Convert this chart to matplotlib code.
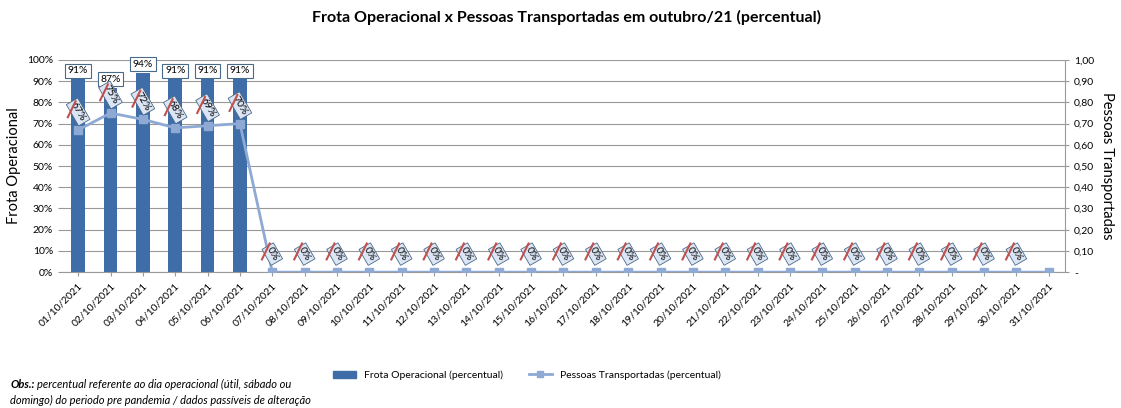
import numpy as np
import matplotlib.pyplot as plt
from matplotlib.patches import Patch
from matplotlib.lines import Line2D

plt.rcParams['font.family'] = ['Lato', 'DejaVu Sans']

dias = ["%02d/10/2021" % d for d in range(1, 32)]
frota = [91, 87, 94, 91, 91, 91] + [0] * 25
pessoas = [0.67, 0.75, 0.72, 0.68, 0.69, 0.70] + [0.0] * 25

fig = plt.figure(figsize=(11.21, 4.08), dpi=100)
ax = fig.add_axes([0.0553, 0.333, 0.8947, 0.52])
ax2 = ax.twinx()

x = np.arange(len(dias))
bar_color = '#3E6DA8'
line_color = '#8EA9D4'
grid_color = '#999999'

ax.set_axisbelow(True)
ax.grid(True, axis='y', color=grid_color, linewidth=0.8)
ax.bar(x, frota, width=0.42, color=bar_color, zorder=2)
ax.set_ylim(0, 100)
ax.set_xlim(-0.5, len(dias) - 0.5)
ax.set_yticks(np.arange(0, 101, 10))
ax.set_yticklabels(["%d%%" % v for v in range(0, 101, 10)], fontsize=7.5)
ax.set_xticks(x)
ax.set_xticklabels(dias, rotation=45, ha='right', rotation_mode='anchor', fontsize=7.5)
ax.set_ylabel("Frota Operacional", fontsize=10.5)
for s in ['top', 'right', 'left']:
    ax.spines[s].set_visible(False)
ax.spines['bottom'].set_color(grid_color)
ax.tick_params(axis='both', length=3, color=grid_color)

# rotulos das barras
for xi, v in zip(x, frota):
    if v > 0:
        ax.text(xi, v + 1.8, "%d%%" % v, ha='center', va='bottom', fontsize=7.5,
                bbox=dict(boxstyle='square,pad=0.25', fc='white', ec='#4a6a8a', lw=0.8), zorder=5)

ax2.plot(x, pessoas, color=line_color, lw=2, marker='s', markersize=6, zorder=3)
ax2.set_ylim(0, 1)
ax2.set_yticks(np.arange(0, 1.01, 0.1))
ax2.set_yticklabels(['-'] + [("%.2f" % v).replace('.', ',') for v in np.arange(0.1, 1.01, 0.1)], fontsize=7.5)
ax2.set_ylabel("Pessoas Transportadas", fontsize=10.5, rotation=-90, labelpad=14)
for s in ['top', 'left', 'bottom']:
    ax2.spines[s].set_visible(False)
ax2.spines['right'].set_color(grid_color)
ax2.tick_params(axis='y', length=3, color=grid_color)

# rotulos da linha (sem o ultimo dia)
for xi, v in zip(x[:-1], pessoas[:-1]):
    ax2.text(xi, v + 0.085, "%d%%" % round(v * 100), ha='center', va='center', fontsize=7.5,
             rotation=-60,
             bbox=dict(boxstyle='square,pad=0.2', fc='#dbe5f3', ec='#4a6a8a', lw=0.6), zorder=6)
    ax2.plot([xi - 0.32, xi - 0.08], [v + 0.06, v + 0.135], color='#c0504d', lw=1.5, zorder=7)

fig.text(0.505, 0.945, "Frota Operacional x Pessoas Transportadas em outubro/21 (percentual)",
         ha='center', fontsize=11.5, fontweight='bold')

handles = [Patch(color=bar_color, label="Frota Operacional (percentual)"),
           Line2D([0], [0], color=line_color, lw=2, marker='s', markersize=5,
                  label="Pessoas Transportadas (percentual)")]
fig.legend(handles=handles, loc='center', bbox_to_anchor=(0.47, 0.08), ncol=2,
           frameon=False, fontsize=7.5, handlelength=2.2, columnspacing=2.5)

fig.text(0.009, 0.043, "Obs.:", fontsize=8, style='italic', fontweight='bold', va='bottom')
fig.text(0.033, 0.043, "percentual referente ao dia operacional (útil, sábado ou",
         fontsize=8, style='italic', va='bottom')
fig.text(0.009, 0.005, "domingo) do periodo pre pandemia / dados passíveis de alteração",
         fontsize=8, style='italic', va='bottom')

fig.savefig("out.png", dpi=100)
